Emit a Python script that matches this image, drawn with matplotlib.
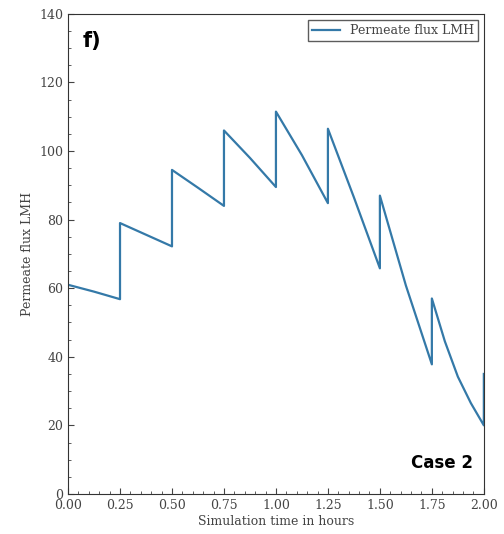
import numpy as np
import matplotlib.pyplot as plt
from matplotlib.ticker import MultipleLocator, FormatStrFormatter

# datos
tiempo = [0.0, 0.125, 0.25, 0.25, 0.375, 0.5, 0.5, 0.625, 0.75, 0.75, 0.875, 1.0,
          1.0, 1.125, 1.25, 1.25, 1.375, 1.5, 1.5, 1.625, 1.75, 1.75, 1.8125, 1.875, 1.9375, 2.0, 2.0]
flujo = [61.0, 59.0, 56.8, 79.0, 75.6, 72.2, 94.5, 89.3, 84.0, 106.0, 98.0, 89.5,
         111.5, 98.8, 84.8, 106.5, 86.5, 65.8, 87.0, 60.8, 37.8, 57.0, 44.5, 34.2, 26.5, 20.0, 35.0]

plt.rcParams['font.family'] = 'DejaVu Serif'
gris = '#444444'

fig = plt.figure(figsize=(5.04, 5.34), dpi=100)
ax = fig.add_axes([0.135, 0.075, 0.825, 0.899])
ax.plot(tiempo, flujo, color='#3479a8', lw=1.6, label='Permeate flux LMH')

ax.set_xlim(0, 2.0)
ax.set_ylim(0, 140)
ax.xaxis.set_major_locator(MultipleLocator(0.25))
ax.xaxis.set_minor_locator(MultipleLocator(0.05))
ax.yaxis.set_major_locator(MultipleLocator(20))
ax.yaxis.set_minor_locator(MultipleLocator(5))
ax.xaxis.set_major_formatter(FormatStrFormatter('%.2f'))
ax.tick_params(which='both', direction='in', top=False, right=False,
               labelsize=9, colors=gris, labelcolor=gris)
ax.tick_params(which='major', length=4)
ax.tick_params(which='minor', length=2)
for s in ax.spines.values():
    s.set_color('#333333')

ax.set_xlabel('Simulation time in hours', fontsize=9, color=gris, labelpad=2)
ax.set_ylabel('Permeate flux LMH', fontsize=9, color=gris, labelpad=4)

leg = ax.legend(loc='upper right', fontsize=9, fancybox=False, edgecolor='#333333',
                handlelength=2.2, borderpad=0.3, labelspacing=0.2)
for t in leg.get_texts():
    t.set_color(gris)

ax.text(0.035, 0.965, 'f)', transform=ax.transAxes, fontsize=15, fontweight='bold',
        family='DejaVu Sans', va='top', ha='left', color='black')
ax.text(0.975, 0.045, 'Case 2', transform=ax.transAxes, fontsize=12, fontweight='bold',
        family='DejaVu Sans', va='bottom', ha='right', color='black')

fig.savefig('out.png', dpi=100)
